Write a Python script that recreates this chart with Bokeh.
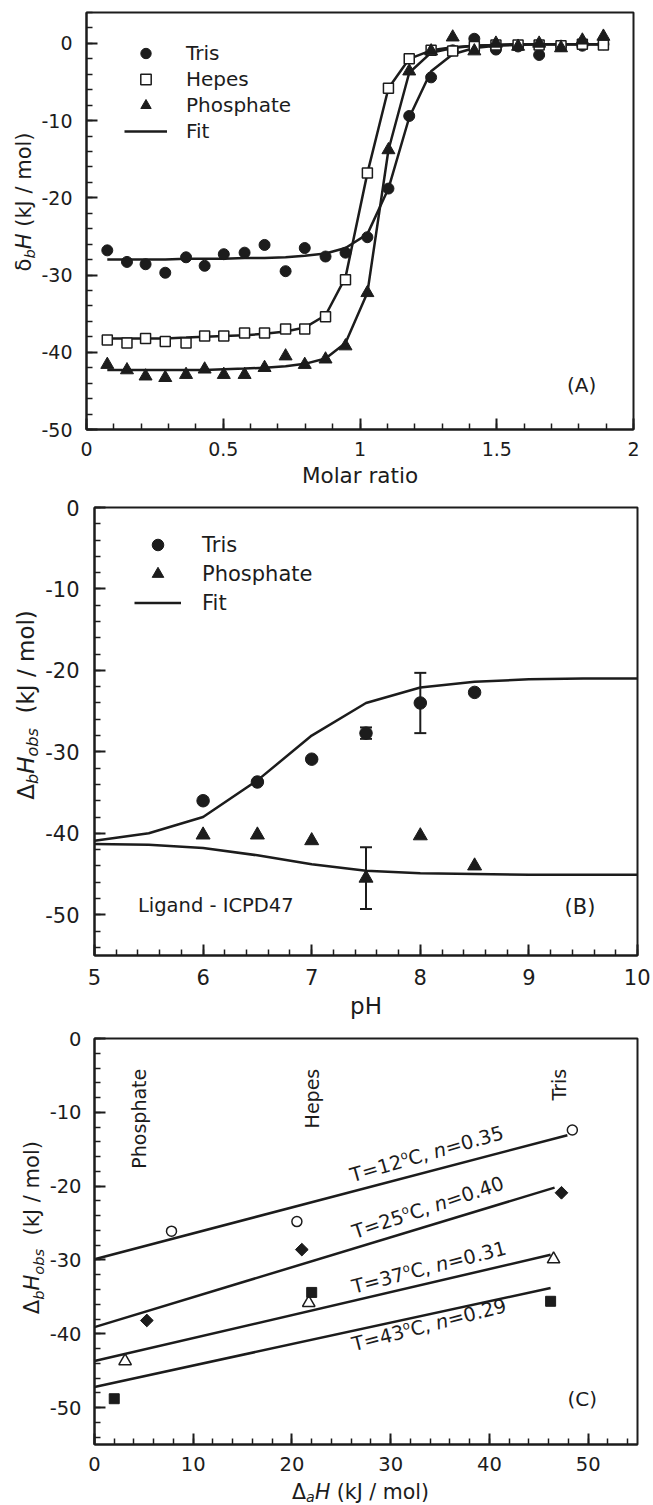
import math
from bokeh.plotting import figure
from bokeh.layouts import column, row
from bokeh.models import (Label, Legend, LegendItem, SingleIntervalTicker, Range1d,
                          Whisker, TeeHead, ColumnDataSource)
from bokeh.embed import file_html
from bokeh.resources import INLINE

FONT = "DejaVu Sans"
INK = "#1c1c1c"

# ---------------- Panel A data ----------------
a_ratio = [0.076, 0.148, 0.216, 0.288, 0.364, 0.432, 0.502, 0.578, 0.651, 0.728, 0.798, 0.874,
           0.947, 1.027, 1.104, 1.180, 1.260, 1.339, 1.418, 1.497, 1.578, 1.655, 1.735, 1.813, 1.890]
a_tris = [-26.8, -28.3, -28.6, -29.7, -27.7, -28.8, -27.3, -27.1, -26.1, -29.5, -26.5, -27.6,
          -27.1, -25.1, -18.8, -9.4, -4.4, -0.9, 0.6, -0.8, -0.4, -1.5, -0.3, -0.3, -0.1]
a_hepes = [-38.4, -38.8, -38.2, -38.6, -38.8, -37.9, -37.9, -37.5, -37.5, -37.0, -37.0, -35.4,
           -30.6, -16.8, -5.8, -2.0, -0.9, -1.0, -0.4, -0.2, -0.2, -0.2, -0.3, -0.1, -0.2]
a_phos = [-41.6, -42.3, -43.1, -43.3, -42.9, -42.2, -42.9, -42.9, -42.0, -40.5, -41.6, -40.9,
          -39.2, -32.3, -13.8, -3.6, -1.0, 0.8, -1.0, 0.0, -0.4, 0.0, -0.6, 0.4, 0.9]
a_fit_tris = [-28.0, -28.0, -28.0, -28.0, -27.9, -27.9, -27.9, -27.8, -27.8, -27.7, -27.5, -27.2,
              -26.5, -24.7, -18.8, -9.6, -3.6, -1.4, -0.6, -0.3, -0.2, -0.1, -0.1, -0.1, -0.1]
a_fit_hepes = [-38.2, -38.2, -38.2, -38.2, -38.1, -38.0, -37.9, -37.8, -37.6, -37.3, -36.8, -35.2,
               -30.3, -16.8, -5.8, -2.0, -0.9, -0.5, -0.3, -0.2, -0.1, -0.1, -0.1, -0.1, -0.1]
a_fit_phos = [-42.3, -42.3, -42.3, -42.3, -42.3, -42.3, -42.2, -42.1, -42.0, -41.8, -41.5, -40.8,
              -38.8, -32.3, -13.8, -3.8, -1.2, -0.6, -0.3, -0.2, -0.1, -0.1, -0.1, -0.1, -0.1]
a_xtick_labels = {0: "0", 0.5: "0.5", 1: "1", 1.5: "1.5", 2: "2"}

# ---------------- Panel B data ----------------
b_ph = [6.0, 6.5, 7.0, 7.5, 8.0, 8.5]
b_tris = [-36.0, -33.7, -30.9, -27.7, -24.0, -22.7]
b_tris_err = [0.0, 0.0, 0.0, 0.7, 3.7, 0.0]
b_phos = [-40.2, -40.2, -40.9, -45.5, -40.3, -44.0]
b_phos_err = [0.0, 0.0, 0.0, 3.8, 0.0, 0.0]
b_fit_ph = [5.0, 5.5, 6.0, 6.5, 7.0, 7.5, 8.0, 8.5, 9.0, 9.5, 10.0]
b_fit_tris = [-40.9, -40.0, -38.0, -33.5, -28.0, -24.0, -22.1, -21.4, -21.1, -21.0, -21.0]
b_fit_phos = [-41.3, -41.4, -41.8, -42.7, -43.8, -44.6, -44.9, -45.0, -45.1, -45.1, -45.1]

# ---------------- Panel C data ----------------
c12_x = [7.8, 20.5, 48.4]
c12_y = [-26.1, -24.8, -12.4]
c25_x = [5.3, 21.0, 47.3]
c25_y = [-38.2, -28.6, -20.9]
c37_x = [3.1, 21.7, 46.5]
c37_y = [-43.7, -35.8, -29.9]
c43_x = [2.0, 22.0, 46.2]
c43_y = [-48.8, -34.4, -35.6]
c12_fit_x, c12_fit_y = [0.0, 47.9], [-29.9, -13.1]
c25_fit_x, c25_fit_y = [0.0, 46.6], [-39.1, -20.2]
c37_fit_x, c37_fit_y = [0.0, 46.2], [-43.7, -29.3]
c43_fit_x, c43_fit_y = [0.0, 46.2], [-47.2, -33.8]
c_temps = ["12", "25", "37", "43"]
c_slopes = ["0.35", "0.40", "0.31", "0.29"]
c_buffers = ["Phosphate", "Hepes", "Tris"]
c_buffer_x = [4.5, 22.0, 47.0]

y_tick_labels = {v: str(v) for v in (-50, -40, -30, -20, -10, 0)}

# DejaVu Sans advance widths (em) for composing mixed-style labels
GW = {" ": 0.318, "(": 0.390, ")": 0.390, ",": 0.318, "-": 0.361, ".": 0.318, "/": 0.337,
      "=": 0.838, "C": 0.698, "H": 0.752, "J": 0.295, "T": 0.611, "a": 0.613, "b": 0.635,
      "k": 0.579, "l": 0.278, "m": 0.974, "n": 0.634, "o": 0.612, "s": 0.521,
      "\u0394": 0.684, "\u03b4": 0.612}
for d in "0123456789":
    GW[d] = 0.636
MID = 0.346  # em-box centre above the baseline


def text_w(t, size):
    return sum(GW.get(ch, 0.6) for ch in t) * size


def rich_label(p, pieces, x, y, size, angle_deg=0.0, align="left", anchor_baseline=False):
    """pieces: (text, style, scale, baseline_shift_in_em). Drawn with middle baselines."""
    th = math.radians(angle_deg)
    c, s = math.cos(th), math.sin(th)
    total = sum(text_w(t, size * sc) for t, st, sc, sh in pieces)
    pos = -total / 2 if align == "center" else 0.0
    ref = 0.0 if anchor_baseline else MID * size
    for t, st, sc, sh in pieces:
        fs = size * sc
        lead = len(t) - len(t.lstrip(" "))
        pos += text_w(" " * lead, fs)
        body = t.strip(" ")
        perp = sh * size + MID * fs - ref
        ox = pos * c - perp * s
        oy = pos * s + perp * c
        p.add_layout(Label(x=x, y=y, x_offset=ox, y_offset=oy,
                           angle=th, text=body, text_font=FONT, text_font_size=f"{fs:.1f}px",
                           text_font_style=st, text_align="left", text_baseline="middle",
                           text_color=INK))
        pos += text_w(t.lstrip(" "), fs)


def make_fig(xr, yr, fw, fh, left, right, top, bottom, xint, tick_px, ystand, xstand):
    p = figure(x_range=Range1d(*xr), y_range=Range1d(*yr),
               width=left + fw + right, height=top + fh + bottom,
               min_border_left=left, min_border_right=right, min_border_top=top,
               min_border_bottom=bottom, output_backend="svg", toolbar_location=None,
               background_fill_color="white", border_fill_color="white")
    p.xaxis.ticker = SingleIntervalTicker(interval=xint, num_minor_ticks=5)
    p.yaxis.ticker = SingleIntervalTicker(interval=10, num_minor_ticks=5)
    p.yaxis.major_label_overrides = y_tick_labels
    p.grid.visible = False
    p.outline_line_color = INK
    p.outline_line_width = 2
    p.outline_line_alpha = 1
    for ax in (p.xaxis[0], p.yaxis[0]):
        ax.axis_line_width = 2
        ax.axis_line_color = INK
        ax.major_tick_in = 11
        ax.major_tick_out = 0
        ax.minor_tick_in = 6
        ax.minor_tick_out = 0
        ax.major_tick_line_width = 2
        ax.minor_tick_line_width = 1.5
        ax.major_tick_line_color = INK
        ax.minor_tick_line_color = INK
        ax.major_label_text_font = FONT
        ax.major_label_text_font_size = tick_px
        ax.major_label_text_color = INK
        ax.axis_label_text_font = FONT
        ax.axis_label_text_font_style = "normal"
        ax.axis_label_text_color = INK
    p.yaxis.major_label_standoff = ystand
    p.xaxis.major_label_standoff = xstand
    return p


def strip(w, h):
    s = figure(width=w, height=h, x_range=Range1d(0, w), y_range=Range1d(0, h),
               min_border_left=0, min_border_right=0, min_border_top=0, min_border_bottom=0,
               x_axis_type=None, y_axis_type=None, output_backend="svg",
               toolbar_location=None, background_fill_color="white",
               border_fill_color="white")
    s.outline_line_color = None
    return s


def make_legend(items, loc, gw, gh, standoff, fsize):
    return Legend(items=items, location=loc, orientation="vertical", glyph_width=gw,
                  glyph_height=gh, label_height=gh, label_standoff=standoff, spacing=0,
                  padding=0, margin=0, border_line_alpha=0, background_fill_alpha=0,
                  label_text_font=FONT, label_text_font_size=fsize, label_text_color=INK)


# ================= Panel A =================
pA = make_fig((0, 2), (-50, 4), 547, 417, 48, 15, 12, 64, 0.5, "19px", 14, 12)
pA.xaxis.major_label_overrides = a_xtick_labels
pA.xaxis.axis_label = "Molar ratio"
pA.xaxis.axis_label_text_font_size = "21.5px"
pA.xaxis.axis_label_standoff = 4
fA1 = pA.line(a_ratio, a_fit_tris, line_color=INK, line_width=2.5)
pA.line(a_ratio, a_fit_hepes, line_color=INK, line_width=2.5)
pA.line(a_ratio, a_fit_phos, line_color=INK, line_width=2.5)
rA_t = pA.scatter(a_ratio, a_tris, marker="circle", size=11, fill_color=INK, line_color=INK)
rA_h = pA.scatter(a_ratio, a_hepes, marker="square", size=10, fill_color="white",
                  line_color=INK, line_width=1.5)
rA_p = pA.scatter(a_ratio, a_phos, marker="triangle", size=13, fill_color=INK, line_color=INK)
pA.add_layout(make_legend([LegendItem(label="Tris", renderers=[rA_t]),
                           LegendItem(label="Hepes", renderers=[rA_h]),
                           LegendItem(label="Phosphate", renderers=[rA_p]),
                           LegendItem(label="Fit", renderers=[fA1])],
                          (38, 285), 43, 26, 19, "20px"))
pA.add_layout(Label(x=1.81, y=-44.2, text="(A)", text_font=FONT, text_font_size="20px",
                    text_align="center", text_baseline="middle", text_color=INK))
sA = strip(38, 493)
rich_label(sA, [("\u03b4", "normal", 1, 0), ("b", "italic", 0.7, -0.18),
                ("H", "italic", 1, 0), (" (kJ / mol)", "normal", 1, 0)],
           23, 269, 21, angle_deg=90, align="center")

# ================= Panel B =================
pB = make_fig((5, 10), (-55, 0), 544, 448, 51, 13, 14, 70, 1, "21px", 15, 13)
pB.xaxis.axis_label = "pH"
pB.xaxis.axis_label_text_font_size = "23px"
pB.xaxis.axis_label_standoff = 5
fB1 = pB.line(b_fit_ph, b_fit_tris, line_color=INK, line_width=2.5)
pB.line(b_fit_ph, b_fit_phos, line_color=INK, line_width=2.5)
errs = [(x, y, e) for x, y, e in zip(b_ph, b_tris, b_tris_err) if e > 0] + \
       [(x, y, e) for x, y, e in zip(b_ph, b_phos, b_phos_err) if e > 0]
wsrc = ColumnDataSource(dict(x=[t[0] for t in errs], upper=[t[1] + t[2] for t in errs],
                             lower=[t[1] - t[2] for t in errs]))
pB.add_layout(Whisker(source=wsrc, base="x", upper="upper", lower="lower", dimension="height",
                      line_color=INK, line_width=2,
                      upper_head=TeeHead(size=12, line_width=2, line_color=INK),
                      lower_head=TeeHead(size=12, line_width=2, line_color=INK)))
rB_t = pB.scatter(b_ph, b_tris, marker="circle", size=12.5, fill_color=INK, line_color=INK)
rB_p = pB.scatter(b_ph, b_phos, marker="triangle", size=14, fill_color=INK, line_color=INK)
pB.add_layout(make_legend([LegendItem(label="Tris", renderers=[rB_t]),
                           LegendItem(label="Phosphate", renderers=[rB_p]),
                           LegendItem(label="Fit", renderers=[fB1])],
                          (40, 338), 47, 29, 21, "21px"))
pB.add_layout(Label(x=9.47, y=-49.1, text="(B)", text_font=FONT, text_font_size="21px",
                    text_align="center", text_baseline="middle", text_color=INK))
pB.add_layout(Label(x=5.40, y=-48.9, text="Ligand - ICPD47", text_font=FONT,
                    text_font_size="19.5px", text_align="left", text_baseline="middle",
                    text_color=INK))
sB = strip(42, 532)
rich_label(sB, [("\u0394", "normal", 1, 0), ("b", "italic", 0.7, -0.18),
                ("H", "italic", 1, 0), ("obs", "italic", 0.7, -0.18),
                ("  (kJ / mol)", "normal", 1, 0)],
           25.6, 297.5, 23, angle_deg=90, align="center")

# ================= Panel C =================
pC = make_fig((0, 55), (-55, 0), 544, 406, 47, 13, 13, 35, 10, "19.5px", 13, 12)
for fx, fy in ((c12_fit_x, c12_fit_y), (c25_fit_x, c25_fit_y),
               (c37_fit_x, c37_fit_y), (c43_fit_x, c43_fit_y)):
    pC.line(fx, fy, line_color=INK, line_width=2.5)
pC.scatter(c12_x, c12_y, marker="circle", size=10, fill_color="white", line_color=INK,
           line_width=1.5)
pC.scatter(c25_x, c25_y, marker="square", size=9, angle=math.pi / 4, fill_color=INK,
           line_color=INK)
pC.scatter(c37_x, c37_y, marker="triangle", size=12.5, fill_color="white", line_color=INK,
           line_width=1.5)
pC.scatter(c43_x, c43_y, marker="square", size=10, fill_color=INK, line_color=INK)

for name, bx in zip(c_buffers, c_buffer_x):
    pC.add_layout(Label(x=bx, y=-4.1, text=name, angle=math.pi / 2, text_font=FONT,
                        text_font_size="19px", text_align="right", text_baseline="middle",
                        text_color=INK))

line_label_pos = [(26.15, -19.5, 16.0), (26.4, -27.2, 18.5), (26.3, -34.6, 14.5),
                  (26.3, -42.4, 14.5)]
for (lx, ly, ang), t, n in zip(line_label_pos, c_temps, c_slopes):
    rich_label(pC, [("T=" + t, "normal", 1, 0), ("o", "normal", 0.6, 0.42),
                    ("C,", "normal", 1, 0), (" n", "italic", 1, 0), ("=" + n, "normal", 1, 0)],
               lx, ly, 19.5, angle_deg=ang, align="left", anchor_baseline=True)

pC.add_layout(Label(x=49.4, y=-48.9, text="(C)", text_font=FONT, text_font_size="20px",
                    text_align="center", text_baseline="middle", text_color=INK))
sC = strip(46, 454)
rich_label(sC, [("\u0394", "normal", 1, 0), ("b", "italic", 0.7, -0.18),
                ("H", "italic", 1, 0), ("obs", "italic", 0.7, -0.18),
                ("  (kJ / mol)", "normal", 1, 0)],
           31.6, 242.5, 21, angle_deg=90, align="center")
xC = strip(650, 26)
rich_label(xC, [("\u0394", "normal", 1, 0), ("a", "italic", 0.7, -0.18),
                ("H", "italic", 1, 0), (" (kJ / mol)", "normal", 1, 0)],
           360, 14, 20.5, angle_deg=0, align="center")

layout = column(row(sA, pA), row(sB, pB), row(sC, pC), xC)
open("out.html", "w").write(file_html(layout, INLINE))
